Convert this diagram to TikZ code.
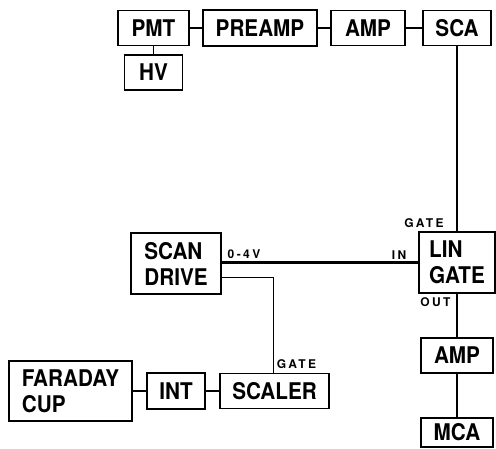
\documentclass[tikz,border=0pt]{standalone}
\usepackage{fontspec}
\setmainfont{TeX Gyre Heros}
\usepackage{tikz}
\usetikzlibrary{positioning, calc}

\begin{document}
\begin{tikzpicture}[x=1pt, y=-1pt,
  box/.style={draw, line width=1.6pt, inner sep=0pt, align=left, font=\fontsize{23}{26}\selectfont\bfseries\addfontfeatures{FakeStretch=0.9}},
  tag/.style={inner sep=0pt, font=\fontsize{12}{12}\selectfont\bfseries\addfontfeatures{LetterSpace=20}},
  link/.style={line width=1.3pt}, thinlink/.style={line width=1pt}]
  \useasboundingbox (0, 0) rectangle (496, 448);
  % top chain
  \node[box, minimum width=71, minimum height=35] (pmt) at (153.5, 28) {PMT};
  \node[box, minimum width=58, minimum height=35] (hv) at (153.5, 72.5) {HV};
  \node[box, minimum width=114, minimum height=36] (preamp) at (260, 28) {PREAMP};
  \node[box, minimum width=74, minimum height=35] (amp) at (368, 28) {AMP};
  \node[box, minimum width=68, minimum height=35] (sca) at (457, 28) {SCA};
  % gate and output column
  \node[box, minimum width=76, minimum height=61] (lin) at (457, 262.5) {LIN\\GATE};
  \node[box, minimum width=72, minimum height=35] (amptwo) at (457, 355.5) {AMP};
  \node[box, minimum width=72, minimum height=29] (mca) at (457, 432.5) {MCA};
  % scan and beam current
  \node[box, minimum width=90, minimum height=61] (scan) at (176, 263.5) {SCAN\\DRIVE};
  \node[box, minimum width=123, minimum height=60] (faraday) at (70.5, 391) {FARADAY\\CUP};
  \node[box, minimum width=58, minimum height=36] (int) at (176, 391) {INT};
  \node[box, minimum width=109, minimum height=35] (scaler) at (274.5, 391) {SCALER};
  % small labels
  \node[tag] (lingate) at (424, 223) {GATE};
  \node[tag] (linin) at (399, 255) {IN};
  \node[tag] (linout) at (435.5, 302) {OUT};
  \node[tag] (range) at (244, 254.5) {0-4V};
  \node[tag] (scgate) at (296.5, 364) {GATE};
  % connections
  \draw[link] (pmt) -- (preamp);
  \draw[link] (preamp) -- (amp);
  \draw[link] (amp) -- (sca);
  \draw[link] (pmt) -- (hv);
  \draw[line width=1.8pt] (sca) -- (lin);
  \draw[line width=2.1pt] (scan.east |- lin.west) -- (lin.west);
  \draw[thinlink] ([yshift=-13.5pt]scan.east) -| ([xshift=-1.5pt]scaler.north);
  \draw[link] (lin) -- (amptwo);
  \draw[link] (amptwo) -- (mca);
  \draw[link] (faraday) -- (int);
  \draw[link] (int) -- (scaler);
\end{tikzpicture}
\end{document}
